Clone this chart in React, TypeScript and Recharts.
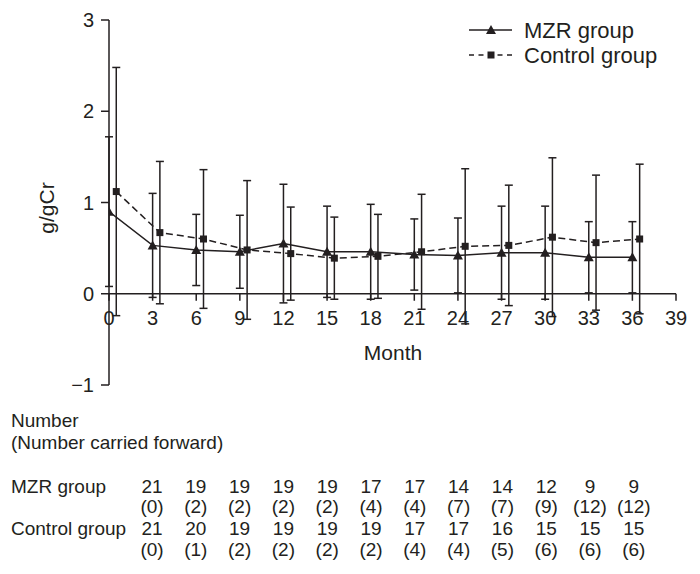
import React from 'react';
import { ComposedChart, Line, XAxis, YAxis, ErrorBar, ReferenceLine, Legend } from 'recharts';

// months of follow-up
const months = [0, 3, 6, 9, 12, 15, 18, 21, 24, 27, 30, 33, 36];

// g/gCr, mean and SD
const mzrMean = [0.9, 0.53, 0.48, 0.46, 0.55, 0.46, 0.46, 0.43, 0.42, 0.45, 0.45, 0.4, 0.4];
const mzrSd = [0.82, 0.57, 0.39, 0.4, 0.65, 0.5, 0.52, 0.39, 0.41, 0.51, 0.51, 0.39, 0.39];
const controlMean = [1.12, 0.67, 0.6, 0.48, 0.44, 0.39, 0.41, 0.46, 0.52, 0.53, 0.62, 0.56, 0.6];
const controlSd = [1.36, 0.78, 0.76, 0.76, 0.51, 0.45, 0.46, 0.63, 0.85, 0.66, 0.87, 0.74, 0.82];

const xTicks = [0, 3, 6, 9, 12, 15, 18, 21, 24, 27, 30, 33, 36, 39];
const yTicks = [-1, 0, 1, 2, 3];

// number at risk table
const mzrN = [21, 19, 19, 19, 19, 17, 17, 14, 14, 12, 9, 9];
const mzrCarried = [0, 2, 2, 2, 2, 4, 4, 7, 7, 9, 12, 12];
const controlN = [21, 20, 19, 19, 19, 19, 17, 17, 16, 15, 15, 15];
const controlCarried = [0, 1, 2, 2, 2, 2, 4, 4, 5, 6, 6, 6];

const INK = '#231f20';
const FONT = "'Liberation Sans', Arial, Helvetica, sans-serif";

const W = 700;
const H = 574;
const CHART_H = 420;
const margin = { top: 20, right: 24, left: 0, bottom: 5 };
const Y_AXIS_W = 109;
const X_AXIS_H = 30;
const PLOT_H = CHART_H - margin.top - margin.bottom - X_AXIS_H;
const Y_MIN = -1;
const Y_MAX = 3;
const zeroY = margin.top + (PLOT_H * Y_MAX) / (Y_MAX - Y_MIN);

// control group is drawn half a month to the right so the bars don't overlap
const CONTROL_SHIFT = 0.5;

const mzrData = months.map((m, i) => ({ month: m, mean: mzrMean[i], sd: mzrSd[i] }));
const controlData = months.map((m, i) => ({ month: m + CONTROL_SHIFT, mean: controlMean[i], sd: controlSd[i] }));

const triangle = (cx: number, cy: number, s = 5) =>
  `${cx},${cy - s} ${cx + s},${cy + s * 0.8} ${cx - s},${cy + s * 0.8}`;

const TriangleDot = (props: any) => {
  const { cx, cy, index } = props;
  if (cx == null || cy == null) return <g key={`t${index}`} />;
  return <polygon key={`t${index}`} points={triangle(cx, cy)} fill={INK} />;
};

const SquareDot = (props: any) => {
  const { cx, cy, index } = props;
  if (cx == null || cy == null) return <g key={`s${index}`} />;
  return <rect key={`s${index}`} x={cx - 3.5} y={cy - 3.5} width={7} height={7} fill={INK} />;
};

// x axis sits on y = 0, so ticks are drawn at the zero line
const XTick = (props: any) => {
  const { x, payload } = props;
  return (
    <g>
      <line x1={x} x2={x} y1={zeroY} y2={zeroY + 7} stroke={INK} strokeWidth={1.5} />
      <text x={x} y={zeroY + 31} textAnchor="middle" fontSize={20} fontFamily={FONT} fill={INK}>
        {payload.value}
      </text>
    </g>
  );
};

const LegendContent = () => (
  <svg width={210} height={52} style={{ display: 'block' }}>
    <line x1={3} x2={46} y1={13} y2={13} stroke={INK} strokeWidth={1.5} />
    <polygon points={triangle(25, 13)} fill={INK} />
    <text x={58} y={21} fontSize={22} fontFamily={FONT} fill={INK}>MZR group</text>
    <line x1={3} x2={46} y1={38} y2={38} stroke={INK} strokeWidth={1.5} strokeDasharray="5 4.5" />
    <rect x={21.5} y={34.5} width={7} height={7} fill={INK} />
    <text x={58} y={46} fontSize={22} fontFamily={FONT} fill={INK}>Control group</text>
  </svg>
);

const colX = (i: number) => 152 + 43.8 * i;

const App = () => {
  const tableText = { fontSize: 19, fontFamily: FONT, fill: INK };
  return (
    <div style={{ position: 'absolute', left: 0, top: 0, width: W, height: H, background: '#fff' }}>
      <ComposedChart width={W} height={CHART_H} margin={margin}>
        <XAxis
          dataKey="month"
          type="number"
          domain={[0, 39]}
          ticks={xTicks}
          allowDataOverflow
          axisLine={false}
          tickLine={false}
          height={X_AXIS_H}
          tick={XTick}
          interval={0}
        />
        <YAxis
          type="number"
          domain={[Y_MIN, Y_MAX]}
          ticks={yTicks}
          allowDataOverflow
          width={Y_AXIS_W}
          tickSize={8}
          tickMargin={7}
          axisLine={{ stroke: INK, strokeWidth: 1.5 }}
          tickLine={{ stroke: INK, strokeWidth: 1.5 }}
          tick={{ fill: INK, fontSize: 20, fontFamily: FONT }}
          tickFormatter={(v: number) => (v < 0 ? `\u2212${Math.abs(v)}` : `${v}`)}
          label={{
            content: () => (
              <text
                x={46}
                y={208}
                transform="rotate(-90 46 208)"
                textAnchor="middle"
                dominantBaseline="central"
                fontSize={21}
                fontFamily={FONT}
                fill={INK}
              >
                g/gCr
              </text>
            ),
          }}
        />
        <ReferenceLine y={0} stroke={INK} strokeWidth={1.5} />
        <Legend
          layout="horizontal"
          verticalAlign="middle"
          align="center"
          content={LegendContent}
          wrapperStyle={{ top: 17, left: 466, width: 210 }}
        />
        <Line
          data={controlData}
          dataKey="mean"
          name="Control group"
          type="linear"
          stroke={INK}
          strokeWidth={1.5}
          strokeDasharray="7 4"
          dot={SquareDot}
          activeDot={false}
          isAnimationActive={false}
        >
          <ErrorBar dataKey="sd" direction="y" width={4} stroke={INK} strokeWidth={1.5} isAnimationActive={false} />
        </Line>
        <Line
          data={mzrData}
          dataKey="mean"
          name="MZR group"
          type="linear"
          stroke={INK}
          strokeWidth={1.5}
          dot={TriangleDot}
          activeDot={false}
          isAnimationActive={false}
        >
          <ErrorBar dataKey="sd" direction="y" width={4} stroke={INK} strokeWidth={1.5} isAnimationActive={false} />
        </Line>
      </ComposedChart>
      <svg
        width={W}
        height={H}
        style={{ position: 'absolute', left: 0, top: 0, pointerEvents: 'none' }}
      >
        <text x={393} y={360} textAnchor="middle" fontSize={21} fontFamily={FONT} fill={INK}>
          Month
        </text>
        <text x={11} y={427} {...tableText}>Number</text>
        <text x={11} y={449} {...tableText}>(Number carried forward)</text>
        <text x={11} y={493} {...tableText}>MZR group</text>
        <text x={11} y={535} {...tableText}>Control group</text>
        {mzrN.map((n, i) => (
          <text key={`mn${i}`} x={colX(i)} y={493} textAnchor="middle" {...tableText}>{n}</text>
        ))}
        {mzrCarried.map((n, i) => (
          <text key={`mc${i}`} x={colX(i)} y={513} textAnchor="middle" {...tableText}>({n})</text>
        ))}
        {controlN.map((n, i) => (
          <text key={`cn${i}`} x={colX(i)} y={535} textAnchor="middle" {...tableText}>{n}</text>
        ))}
        {controlCarried.map((n, i) => (
          <text key={`cc${i}`} x={colX(i)} y={556} textAnchor="middle" {...tableText}>({n})</text>
        ))}
      </svg>
    </div>
  );
};

export default App;
